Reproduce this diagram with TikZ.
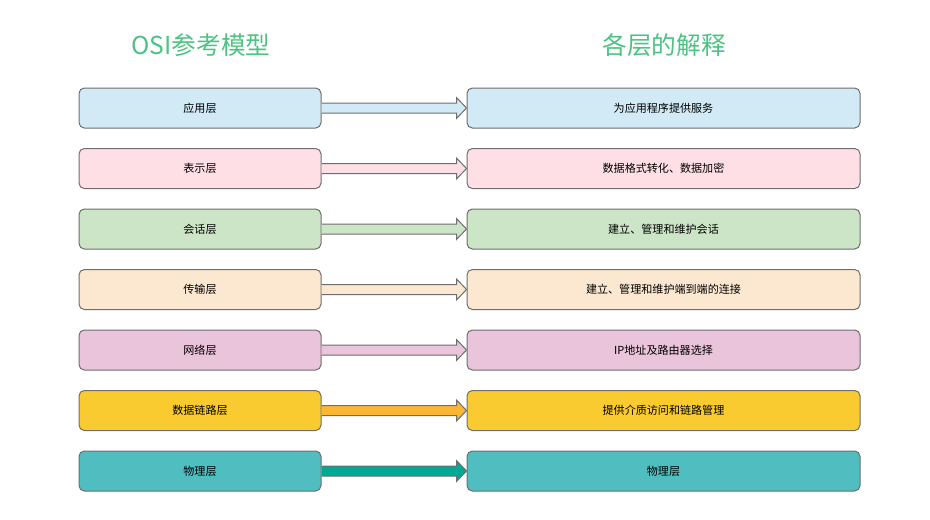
\documentclass[tikz,border=0pt]{standalone}
\usepackage{fontspec}
\setmainfont{Noto Sans CJK SC}
\usetikzlibrary{calc}
\definecolor{titlegreen}{HTML}{4CC383}
\definecolor{boxline}{HTML}{6E6E6E}
\definecolor{appfill}{HTML}{D1EAF5}
\definecolor{prefill}{HTML}{FDDFE5}
\definecolor{sesfill}{HTML}{CDE5C7}
\definecolor{trafill}{HTML}{FCE8D0}
\definecolor{netfill}{HTML}{EAC4DA}
\definecolor{linkfill}{HTML}{F9CB31}
\definecolor{linkarrow}{HTML}{FDB534}
\definecolor{phyfill}{HTML}{50BEC0}
\definecolor{phyarrow}{HTML}{00A896}
\begin{document}
\begin{tikzpicture}[x=0.75pt,y=-0.75pt,
  title/.style={text=titlegreen,font=\fontsize{18.5}{22}\selectfont},
  layer/.style={draw=boxline,line width=0.75pt,rounded corners=4pt,minimum height=30pt,inner sep=0pt,font=\fontsize{8.3}{10}\selectfont},
  arr/.style={draw=boxline,line width=0.75pt,line join=miter}]
\useasboundingbox (0,0) rectangle (930,519);
\node[title] (ltitle) at (201,45) {OSI参考模型};
\node[title] (rtitle) at (664,45) {各层的解释};
\foreach \i/\y/\fc/\ac/\lname/\rname in {
  1/108/appfill/appfill/应用层/为应用程序提供服务,
  2/168.5/prefill/prefill/表示层/数据格式转化、数据加密,
  3/229/sesfill/sesfill/会话层/建立、管理和维护会话,
  4/289.5/trafill/trafill/传输层/建立、管理和维护端到端的连接,
  5/350/netfill/netfill/网络层/IP地址及路由器选择,
  6/410.5/linkfill/linkarrow/数据链路层/提供介质访问和链路管理,
  7/471/phyfill/phyarrow/物理层/物理层}{
  \node[layer,fill=\fc,minimum width=181.5pt] (L\i) at (200,\y) {\lname};
  \node[layer,fill=\fc,minimum width=294.75pt] (R\i) at (663.5,\y) {\rname};
  \draw[arr,fill=\ac] ($(L\i.east)+(0,-5)$) -- ($(R\i.west)+(-10,-5)$) -- ($(R\i.west)+(-10,-10.5)$)
    -- (R\i.west) -- ($(R\i.west)+(-10,10.5)$) -- ($(R\i.west)+(-10,5)$) -- ($(L\i.east)+(0,5)$);
}
\end{tikzpicture}
\end{document}
